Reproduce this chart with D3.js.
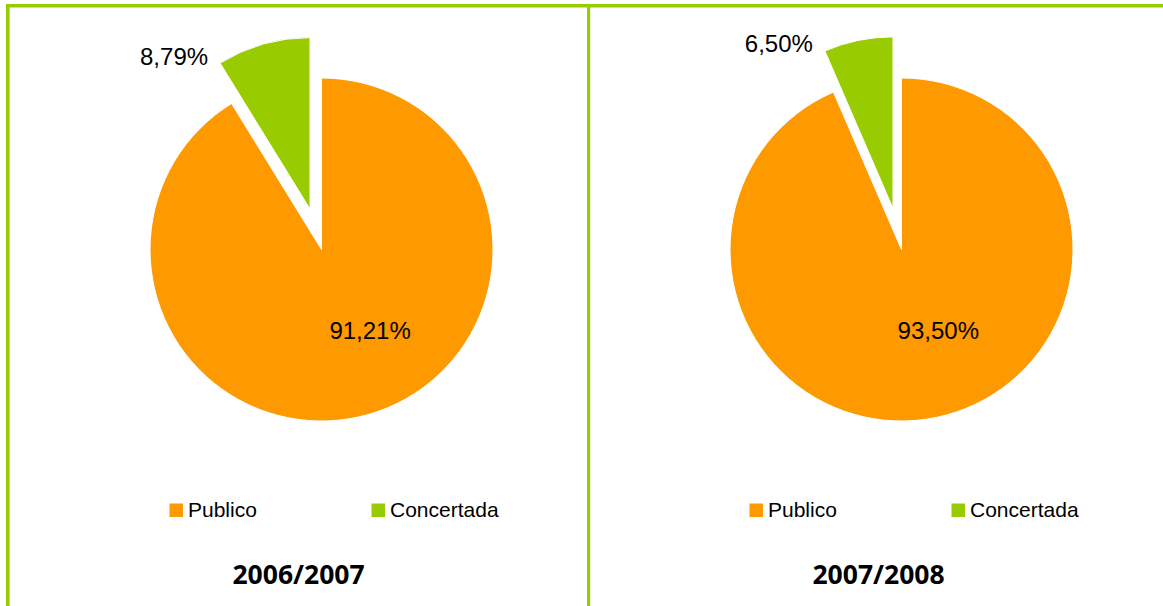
<!DOCTYPE html>
<html>
<head>
<meta charset="utf-8">
<script src="https://cdn.jsdelivr.net/npm/d3@7"></script>
<style>
  body { margin: 0; background: #fff; }
  svg { display: block; }
</style>
</head>
<body>
<svg id="chart" width="1163" height="606"></svg>
<script>
    // data
    const categories = ['Publico', 'Concertada']
    const years = ['2006/2007', '2007/2008']
    const publico = [91.21, 93.50]
    const concertada = [8.79, 6.50]

    const COLORS = ['#ff9900', '#99cc00']
    const FRAME = '#99cc00'

    const svg = d3.select('#chart')
    const fmt = v => d3.format('.2f')(v).replace('.', ',') + '%'

    /**
     * @Frame
     */
    svg.append('rect').attr('x', 6).attr('y', 4).attr('width', 1157).attr('height', 3.5).attr('fill', FRAME)
    svg.append('rect').attr('x', 6).attr('y', 4).attr('width', 3.6).attr('height', 602).attr('fill', FRAME)
    svg.append('rect').attr('x', 587).attr('y', 4).attr('width', 3.2).attr('height', 602).attr('fill', FRAME)

    const R = 171.5
    const EXPLODE = 42
    const centers = d3.scaleOrdinal().domain(years).range([321.5, 901.5])
    const CY = 249.5

    const pie = d3.pie().sort(null).value(d => d.value)
    const arc = d3.arc().innerRadius(0).outerRadius(R)

    years.forEach((year, i) => {
        const cx = centers(year)
        const rows = categories.map((c, k) => ({ name: c, value: k === 0 ? publico[i] : concertada[i] }))
        const slices = pie(rows)
        const g = svg.append('g').attr('transform', `translate(${cx},${CY})`)

        const offset = d => {
            if (d.index === 0) return [0, 0]
            const a = (d.startAngle + d.endAngle) / 2
            return [Math.sin(a) * EXPLODE, -Math.cos(a) * EXPLODE]
        }

        g.selectAll('path')
            .data(slices)
            .enter()
            .append('path')
            .attr('d', arc)
            .attr('transform', d => `translate(${offset(d)})`)
            .attr('fill', (d, k) => COLORS[k])
            .attr('stroke', '#fff')
            .attr('stroke-width', 1)

        // inner label (publico)
        const p = slices[0]
        const green = slices[1]
        const la = Math.PI - (green.endAngle - green.startAngle)
        g.append('text')
            .attr('x', Math.sin(la) * R * 0.54)
            .attr('y', R * 0.475 + 8.5)
            .attr('text-anchor', 'middle')
            .attr('font-family', 'Liberation Sans, Arial, sans-serif')
            .attr('font-size', 24)
            .attr('fill', '#000')
            .text(fmt(p.data.value))

        // outer label (concertada), next to the exploded slice corner
        const [ox, oy] = offset(green)
        const corner = [ox + Math.sin(green.startAngle) * R, oy - Math.cos(green.startAngle) * R]
        g.append('text')
            .attr('x', corner[0] - 12)
            .attr('y', corner[1] + 1.5)
            .attr('text-anchor', 'end')
            .attr('font-family', 'Liberation Sans, Arial, sans-serif')
            .attr('font-size', 24)
            .attr('fill', '#000')
            .text(fmt(green.data.value))

        /**
         * @Legend
         */
        const legend = g.append('g').attr('transform', `translate(0, ${517 - CY})`)
        const lx = d3.scaleOrdinal().domain(categories).range([-152, 50])
        categories.forEach((c, k) => {
            legend.append('rect')
                .attr('x', lx(c))
                .attr('y', -13.5)
                .attr('width', 13.5)
                .attr('height', 13.5)
                .attr('fill', COLORS[k])
            legend.append('text')
                .attr('x', lx(c) + 18.5)
                .attr('y', 0)
                .attr('font-family', 'Liberation Sans, Arial, sans-serif')
                .attr('font-size', 21)
                .attr('fill', '#000')
                .text(c)
        })

        // year title
        g.append('text')
            .attr('x', -23)
            .attr('y', 583.5 - CY)
            .attr('text-anchor', 'middle')
            .attr('font-family', 'Open Sans, sans-serif')
            .attr('font-weight', 'bold')
            .attr('font-size', 26.5)
            .attr('fill', '#000')
            .text(year)
    })
</script>
</body>
</html>
